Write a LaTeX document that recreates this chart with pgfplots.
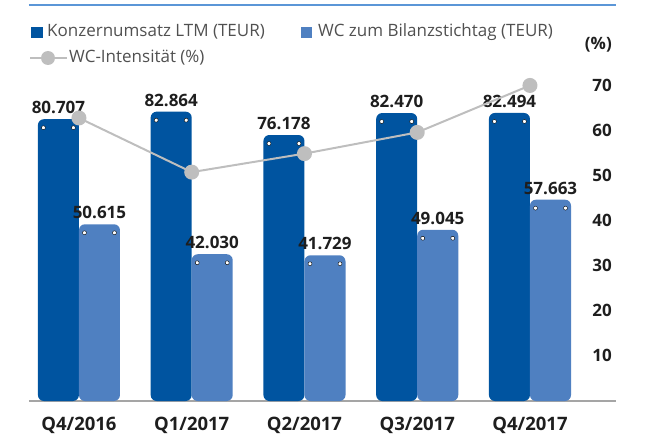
\documentclass[border=0pt]{standalone}
\usepackage{fontspec}
\setmainfont{Open Sans}
\usepackage{pgfplots}
\usepackage{pgfplotstable}
\pgfplotsset{compat=1.18}
\definecolor{darkb}{RGB}{0,84,160}
\definecolor{lightb}{RGB}{79,128,193}
\definecolor{lineg}{RGB}{190,190,190}
\definecolor{topline}{RGB}{91,150,215}
\definecolor{txt}{RGB}{30,30,30}
\definecolor{legtxt}{RGB}{80,80,80}
\definecolor{basel}{RGB}{165,165,165}

\pgfplotstableread{
x umsatz wc
0 80707 50615
1 82864 42030
2 76178 41729
3 82470 49045
4 82494 57663
}\bardata

\pgfplotstableread{
x int
0 62.7
1 50.7
2 54.8
3 59.5
4 69.9
}\linedata

\newcommand\lblfont{\fontsize{17}{20}\selectfont\bfseries}
\newcommand\tickfont{\fontsize{18.5}{22}\selectfont\bfseries}
\newcommand\legfont{\fontsize{17}{20}\selectfont}

\begin{document}
\begin{tikzpicture}
\path[use as bounding box] (-29pt,-36pt) rectangle (617pt,401pt);
\begin{axis}[
  at={(0pt,0pt)}, anchor=south west,
  scale only axis, width=587pt, height=316pt,
  xmin=-0.443, xmax=4.763,
  ymin=0, ymax=90500,
  axis x line*=bottom,
  axis y line=none,
  x axis line style={-, draw=basel, line width=1.3pt},
  xtick={0,1,2,3,4},
  xticklabels={Q4/2016,Q1/2017,Q2/2017,Q3/2017,Q4/2017},
  xticklabel style={font=\tickfont, text=txt, anchor=center, yshift=-24pt},
  major tick length=0pt,
  clip=false,
  /pgf/number format/assume math mode=true,
]
\addplot[ybar, bar width=0.364, bar shift=-0.182, fill=darkb, draw=none, rounded corners=6pt,
  nodes near coords={\pgfmathprintnumber[fixed, precision=0, 1000 sep={.}]{\pgfplotspointmeta}},
  every node near coord/.append style={anchor=south, inner sep=0pt, xshift=-20.5pt, yshift=5pt, font=\lblfont, text=txt}]
  table[x=x, y=umsatz] {\bardata};
\addplot[ybar, bar width=0.364, bar shift=0.182, fill=lightb, draw=none, rounded corners=6pt,
  nodes near coords={\pgfmathprintnumber[fixed, precision=0, 1000 sep={.}]{\pgfplotspointmeta}},
  every node near coord/.append style={anchor=south, inner sep=0pt, xshift=20.5pt, yshift=5pt, font=\lblfont, text=txt}]
  table[x=x, y=wc] {\bardata};
% white rivets near the bar tops
\addplot[only marks, mark=*, mark size=2pt, mark options={fill=white, draw=none, yshift=-8.5pt}]
  coordinates {
  (-0.315,80707) (-0.049,80707) (0.049,50615) (0.315,50615)
  (0.685,82864) (0.951,82864) (1.049,42030) (1.315,42030)
  (1.685,76178) (1.951,76178) (2.049,41729) (2.315,41729)
  (2.685,82470) (2.951,82470) (3.049,49045) (3.315,49045)
  (3.685,82494) (3.951,82494) (4.049,57663) (4.315,57663)
  };
\draw[topline, line width=1.8pt] (rel axis cs:0,1) ++(0pt,80pt) -- ++(587pt,0pt);
\end{axis}

\begin{axis}[
  at={(0pt,0pt)}, anchor=south west,
  scale only axis, width=587pt, height=316pt,
  xmin=-0.443, xmax=4.763,
  ymin=0, ymax=70,
  axis x line=none,
  axis y line*=right,
  y axis line style={draw=none},
  ytick={10,20,30,40,50,60,70},
  yticklabel style={font=\lblfont, text=txt, anchor=east, inner sep=0pt, xshift=-4pt},
  major tick length=0pt,
  clip=false,
  /pgf/number format/assume math mode=true,
]
\addplot[lineg, line width=2pt, mark=*, mark size=6.5pt, mark options={fill=lineg, draw=lineg}]
  table[x=x, y=int] {\linedata};
\node[anchor=east, inner sep=0pt, font=\lblfont, text=txt] at (rel axis cs:1,1) [xshift=-4pt, yshift=40pt] {(\%)};
\end{axis}
% legend
\fill[darkb] (2pt,363pt) rectangle (14pt,374pt);
\node[anchor=west, inner sep=0pt, font=\legfont, text=legtxt] at (18pt,369pt) {Konzernumsatz LTM (TEUR)};
\fill[lightb] (272pt,363pt) rectangle (283pt,374pt);
\node[anchor=west, inner sep=0pt, font=\legfont, text=legtxt] at (289pt,369pt) {WC zum Bilanzstichtag (TEUR)};
\draw[lineg, line width=2pt] (1pt,343pt) -- (38pt,343pt);
\fill[lineg] (19pt,343pt) circle (7pt);
\node[anchor=west, inner sep=0pt, font=\legfont, text=legtxt] at (40pt,343pt) {WC-Intensität (\%)};
\end{tikzpicture}
\end{document}
